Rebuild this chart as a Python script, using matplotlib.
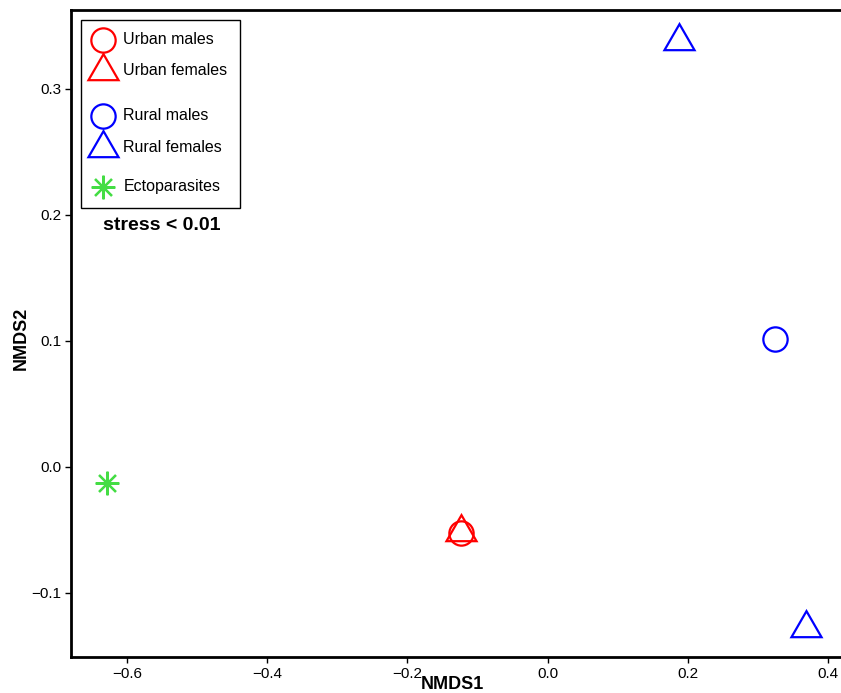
import matplotlib.pyplot as plt
from matplotlib.patches import Rectangle

plt.rcParams['font.family'] = ['Liberation Sans', 'DejaVu Sans']

groups = ['Urban males', 'Urban females', 'Rural males', 'Rural females', 'Ectoparasites']
colors = ['red', 'red', 'blue', 'blue', '#44DD44']
markers = ['o', (3, 0, 0), 'o', (3, 0, 0), (8, 2, 0)]
sizes = [17.5, 25, 17.5, 25, 17]

nmds1 = {
    'Urban males': [-0.124],
    'Urban females': [-0.124],
    'Rural males': [0.324],
    'Rural females': [0.187, 0.369],
    'Ectoparasites': [-0.629],
}
nmds2 = {
    'Urban males': [-0.0524],
    'Urban females': [-0.0515],
    'Rural males': [0.1016],
    'Rural females': [0.338, -0.128],
    'Ectoparasites': [-0.0127],
}

fig = plt.figure(figsize=(8.41, 6.93), dpi=100)
ax = fig.add_axes([0.0844, 0.052, 0.942, 0.9336])

for g, c, m, s in zip(groups, colors, markers, sizes):
    ax.plot(nmds1[g], nmds2[g], linestyle='none', marker=m, markersize=s,
            markerfacecolor='none', markeredgecolor=c, markeredgewidth=1.6,
            color=c)

ax.set_xlim(-0.68, 0.45)
ax.set_ylim(-0.1508, 0.3627)
ax.set_xticks([-0.6, -0.4, -0.2, 0.0, 0.2, 0.4])
ax.set_xticklabels(['\u22120.6', '\u22120.4', '\u22120.2', '0.0', '0.2', '0.4'])
ax.set_yticks([-0.1, 0.0, 0.1, 0.2, 0.3])
ax.set_yticklabels(['\u22120.1', '0.0', '0.1', '0.2', '0.3'])
ax.tick_params(labelsize=11, length=4, width=1, pad=3)
for sp in ['left', 'top', 'bottom']:
    ax.spines[sp].set_linewidth(2)
ax.spines['right'].set_visible(False)

ax.text(0.5 - 0.019, -0.042, 'NMDS1', transform=ax.transAxes, ha='center', va='center',
        fontsize=13, fontweight='bold')
ax.text(-0.063, 0.493, 'NMDS2', transform=ax.transAxes, ha='center', va='center',
        rotation=90, fontsize=13, fontweight='bold')

# legend drawn by hand to keep the gaps between groups
ax.add_patch(Rectangle((0.0126, 0.694), 0.2008, 0.2905, transform=ax.transAxes,
                       facecolor='white', edgecolor='black', linewidth=1, zorder=3))
rows = [0.9536, 0.9057, 0.8362, 0.7867, 0.7264]
for g, c, m, s, yy in zip(groups, colors, markers, sizes, rows):
    ax.plot([0.0404], [yy], transform=ax.transAxes, linestyle='none', marker=m,
            markersize=s, markerfacecolor='none', markeredgecolor=c,
            markeredgewidth=1.6, zorder=4, clip_on=False)
    ax.text(0.066, yy, g, transform=ax.transAxes, ha='left', va='center',
            fontsize=11.5, zorder=4)

ax.text(0.1149, 0.6662, 'stress < 0.01', transform=ax.transAxes, ha='center', va='center',
        fontsize=14, fontweight='bold')

fig.savefig('out.png', dpi=100)
